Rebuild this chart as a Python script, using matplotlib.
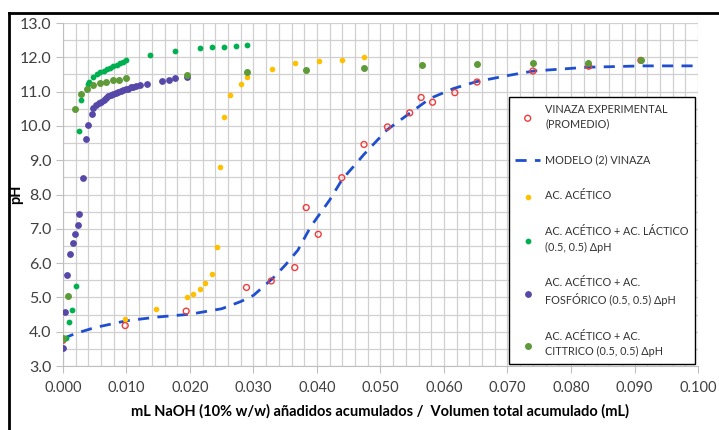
import matplotlib
matplotlib.use("Agg")
from matplotlib import pyplot as plt
from matplotlib.lines import Line2D
import numpy as np

plt.rcParams['font.family'] = ['Lato', 'DejaVu Sans']

# VINAZA EXPERIMENTAL (PROMEDIO)
vin_x = [0.0000, 0.0098, 0.0194, 0.0289, 0.0328, 0.0365, 0.0383, 0.0402, 0.0439, 0.0474,
         0.0511, 0.0546, 0.0564, 0.0582, 0.0617, 0.0652, 0.0740, 0.0828, 0.0910]
vin_y = [3.75, 4.18, 4.60, 5.29, 5.48, 5.87, 7.62, 6.84, 8.49, 9.46,
         9.97, 10.38, 10.83, 10.69, 10.97, 11.28, 11.60, 11.74, 11.91]

# MODELO (2) VINAZA
mod_x = [0.0000, 0.0020, 0.0050, 0.0100, 0.0150, 0.0200, 0.0250, 0.0280, 0.0300, 0.0330,
         0.0350, 0.0370, 0.0390, 0.0420, 0.0440, 0.0462, 0.0473, 0.0510, 0.0546, 0.0578,
         0.0615, 0.0651, 0.0704, 0.0741, 0.0825, 0.0914, 0.0995]
mod_y = [3.80, 3.95, 4.12, 4.32, 4.43, 4.51, 4.67, 4.88, 5.06, 5.55,
         5.94, 6.38, 7.06, 7.84, 8.45, 8.91, 9.15, 9.88, 10.37, 10.80,
         11.09, 11.29, 11.48, 11.60, 11.71, 11.75, 11.75]

# AC. ACETICO
ace_x = [0.0000, 0.0098, 0.0146, 0.0195, 0.0205, 0.0215, 0.0224, 0.0234, 0.0243, 0.0248,
         0.0253, 0.0263, 0.0280, 0.0290, 0.0329, 0.0365, 0.0403, 0.0439, 0.0474]
ace_y = [3.80, 4.38, 4.65, 5.00, 5.10, 5.24, 5.41, 5.68, 6.48, 8.79,
         10.27, 10.89, 11.23, 11.43, 11.65, 11.82, 11.88, 11.92, 12.00]

# AC. ACETICO + AC. LACTICO
lac_x = [0.0000, 0.0004, 0.0009, 0.0014, 0.0020, 0.0025, 0.0029, 0.0039, 0.0041, 0.0048,
         0.0053, 0.0058, 0.0064, 0.0069, 0.0074, 0.0079, 0.0085, 0.0090, 0.0095, 0.0099,
         0.0137, 0.0176, 0.0215, 0.0234, 0.0253, 0.0273, 0.0290]
lac_y = [3.80, 3.82, 4.28, 4.64, 5.33, 9.86, 10.75, 11.21, 11.29, 11.43,
         11.50, 11.56, 11.61, 11.65, 11.70, 11.74, 11.77, 11.82, 11.86, 11.91,
         12.06, 12.19, 12.26, 12.30, 12.30, 12.33, 12.37]

# AC. ACETICO + AC. FOSFORICO
fos_x = [0.0000, 0.0003, 0.0007, 0.0011, 0.0016, 0.0019, 0.0023, 0.0026, 0.0031, 0.0037,
         0.0040, 0.0045, 0.0048, 0.0052, 0.0056, 0.0060, 0.0064, 0.0068, 0.0071, 0.0075,
         0.0079, 0.0083, 0.0087, 0.0091, 0.0095, 0.0099, 0.0103, 0.0107, 0.0111, 0.0115,
         0.0121, 0.0132, 0.0156, 0.0167, 0.0177, 0.0196]
fos_y = [3.53, 4.58, 5.64, 6.26, 6.59, 6.84, 7.11, 7.43, 8.48, 9.62,
         10.04, 10.34, 10.51, 10.60, 10.68, 10.70, 10.75, 10.80, 10.86, 10.91,
         10.94, 10.97, 11.00, 11.03, 11.05, 11.07, 11.09, 11.12, 11.14, 11.17,
         11.20, 11.22, 11.32, 11.35, 11.39, 11.42]

# AC. ACETICO + AC. CITRICO
cit_x = [0.0000, 0.0008, 0.0019, 0.0028, 0.0038, 0.0048, 0.0058, 0.0067, 0.0078, 0.0088,
         0.0099, 0.0195, 0.0289, 0.0383, 0.0474, 0.0565, 0.0652, 0.0740, 0.0826, 0.0910]
cit_y = [3.82, 5.04, 10.49, 10.93, 11.07, 11.19, 11.25, 11.29, 11.33, 11.35,
         11.39, 11.49, 11.56, 11.63, 11.70, 11.77, 11.80, 11.83, 11.84, 11.92]

labels = ["VINAZA EXPERIMENTAL\n(PROMEDIO)",
          "MODELO (2) VINAZA",
          "AC. ACÉTICO",
          "AC. ACÉTICO + AC. LÁCTICO\n(0.5, 0.5) ΔpH",
          "AC. ACÉTICO + AC.\nFOSFÓRICO (0.5, 0.5) ΔpH",
          "AC. ACÉTICO + AC.\nCITTRICO (0.5, 0.5) ΔpH"]

fig = plt.figure(figsize=(7.19, 4.30), dpi=100)
ax = fig.add_axes([0.0876, 0.1488, 0.8832, 0.7977])

ax.scatter(vin_x, vin_y, s=18, facecolors='none', edgecolors='#F03C3C', linewidths=1.0,
           label=labels[0], zorder=4)
ax.plot(mod_x, mod_y, color='#1F4FD0', lw=2.0, ls=(0, (4, 3)), label=labels[1], zorder=3)
ax.scatter(ace_x, ace_y, s=9, color='#FFC000', label=labels[2], zorder=5)
ax.scatter(lac_x, lac_y, s=10, color='#00B050', label=labels[3], zorder=5)
ax.scatter(fos_x, fos_y, s=15, color='#5548A8', label=labels[4], zorder=5)
ax.scatter(cit_x, cit_y, s=16, color='#5E9B38', label=labels[5], zorder=5)

ax.set_xlim(0, 0.1)
ax.set_ylim(3, 13)
ax.set_xticks(np.arange(0, 0.1001, 0.01))
ax.set_xticks(np.arange(0, 0.1001, 0.002), minor=True)
ax.set_yticks(np.arange(3, 13.01, 1))
ax.set_yticks(np.arange(3, 13.01, 0.5), minor=True)
ax.xaxis.set_major_formatter(matplotlib.ticker.FormatStrFormatter('%.3f'))
ax.yaxis.set_major_formatter(matplotlib.ticker.FormatStrFormatter('%.1f'))
ax.grid(True, which='both', color='#D0D0D0', lw=0.9)
ax.set_axisbelow(True)
for s in ['top', 'right']:
    ax.spines[s].set_visible(False)
for s in ['left', 'bottom']:
    ax.spines[s].set_color('#BFBFBF')
ax.tick_params(which='major', length=5, color='#BFBFBF', labelsize=10.5, labelcolor='#404040')
ax.tick_params(axis='y', labelsize=11.5)
ax.tick_params(which='minor', length=0)
ax.tick_params(axis='x', pad=6)

ax.set_xlabel("mL NaOH (10% w/w) añadidos acumulados /  Volumen total acumulado (mL)",
              fontsize=10.5, fontweight='bold', labelpad=6)
ax.set_ylabel("pH", fontsize=10.5, fontweight='bold')
ax.yaxis.set_label_coords(-0.062, 0.5)

leg = ax.legend(loc='upper right', bbox_to_anchor=(0.9953, 0.784), borderaxespad=0,
                fontsize=7.8, frameon=True, fancybox=False, edgecolor='black',
                framealpha=1, labelspacing=2.3, handlelength=2.3, handletextpad=0.45,
                borderpad=0.6)
leg.get_frame().set_linewidth(1.0)
for t in leg.get_texts():
    t.set_color('#333333')
    t.set_linespacing(1.45)

# frame lines around the figure
fig.add_artist(Line2D([9 / 719, 9 / 719], [0, 1 - 13 / 430], color='black', lw=2))
fig.add_artist(Line2D([9 / 719, 1], [1 - 13 / 430, 1 - 13 / 430], color='black', lw=2))

fig.savefig("out.png", dpi=100)
